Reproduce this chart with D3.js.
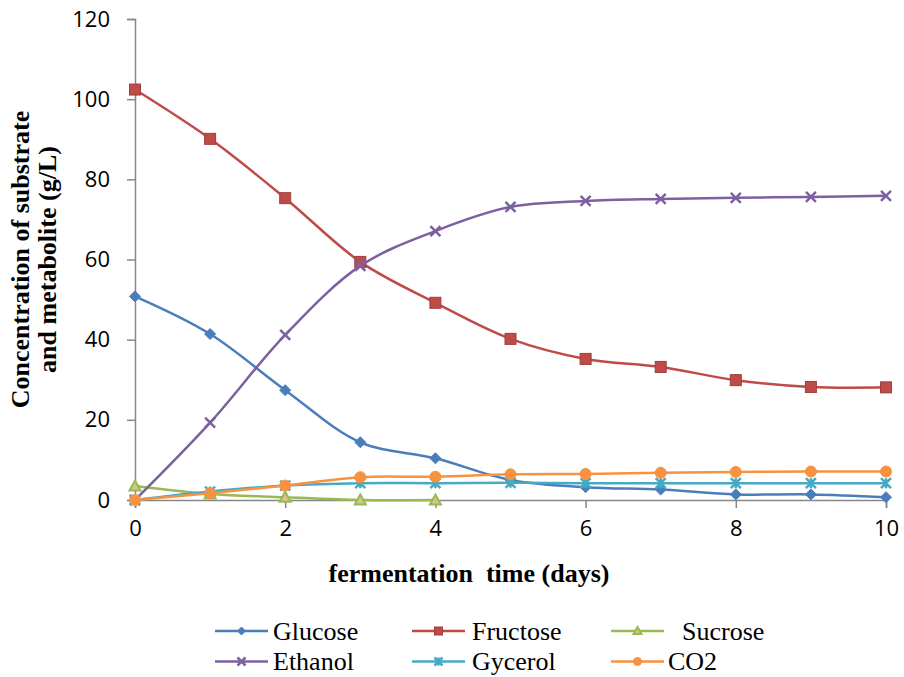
<!DOCTYPE html>
<html>
<head>
<meta charset="utf-8">
<script src="https://cdn.jsdelivr.net/npm/d3@7"></script>
<style>
    body { margin: 0; background: #fff; }
    svg { display: block; }
    .tick-label { font-family: "Open Sans", sans-serif; font-size: 22px; fill: #000; }
    .axis-title { font-family: "Liberation Serif", "Times New Roman", serif; font-size: 26px; font-weight: bold; fill: #000; }
    .legend-text { font-family: "Liberation Serif", "Times New Roman", serif; font-size: 26px; fill: #000; }
</style>
</head>
<body>
<div id="chart"></div>
<script>
// fermentation days
const days = [0, 1, 2, 3, 4, 5, 6, 7, 8, 9, 10];

// concentrations (g/L)
const glucose  = [50.8, 41.4, 27.4, 14.4, 10.4, 5.0, 3.2, 2.6, 1.4, 1.4, 0.7];
const fructose = [102.4, 90.1, 75.3, 59.4, 49.2, 40.2, 35.2, 33.2, 29.9, 28.2, 28.1];
const sucrose  = [3.5, 1.5, 0.7, 0.0, 0.0];
const ethanol  = [0.0, 19.3, 41.2, 58.4, 67.1, 73.1, 74.6, 75.1, 75.4, 75.6, 75.9];
const gycerol  = [0.0, 2.1, 3.6, 4.2, 4.2, 4.3, 4.2, 4.2, 4.2, 4.2, 4.2];
const co2      = [0.0, 1.7, 3.6, 5.7, 5.8, 6.4, 6.5, 6.8, 7.0, 7.1, 7.1];

const xTicks = [0, 2, 4, 6, 8, 10];
const yTicks = [0, 20, 40, 60, 80, 100, 120];

const seriesNames = ["Glucose", "Fructose", "Sucrose", "Ethanol", "Gycerol", "CO2"];
const seriesValues = [glucose, fructose, sucrose, ethanol, gycerol, co2];

// styling per series
const styles = {
    "Glucose":  { color: "#4A7EBB", marker: "diamond" },
    "Fructose": { color: "#BE4B48", marker: "square" },
    "Sucrose":  { color: "#98B954", marker: "triangle" },
    "Ethanol":  { color: "#7D60A0", marker: "cross" },
    "Gycerol":  { color: "#46AAC5", marker: "star" },
    "CO2":      { color: "#F69240", marker: "circle" }
};

const width = 904, height = 677;
const margin = { top: 19, right: 18, bottom: 177, left: 135 };

const svg = d3.select("#chart").append("svg")
    .attr("width", width)
    .attr("height", height);

const xScale = d3.scaleLinear().domain([0, 10]).range([margin.left, width - margin.right]);
const yScale = d3.scaleLinear().domain([0, 120]).range([height - margin.bottom, margin.top]);

// axes
const xAxis = svg.append("g")
    .attr("transform", `translate(0, ${yScale(0)})`)
    .call(d3.axisBottom(xScale).tickValues(xTicks).tickSize(8).tickPadding(12).tickFormat(d3.format("d")));

const yAxis = svg.append("g")
    .attr("transform", `translate(${xScale(0)}, 0)`)
    .call(d3.axisLeft(yScale).tickValues(yTicks).tickSize(8).tickPadding(17).tickFormat(d3.format("d")));

[xAxis, yAxis].forEach(ax => {
    ax.select(".domain").attr("stroke", "#878787").attr("stroke-width", 1.5);
    ax.selectAll(".tick line").attr("stroke", "#878787").attr("stroke-width", 1.5);
    ax.selectAll(".tick text").attr("class", "tick-label").attr("fill", "#000");
});

// axis titles
svg.append("text")
    .attr("class", "axis-title")
    .attr("x", 469)
    .attr("y", 582)
    .attr("text-anchor", "middle")
    .style("white-space", "pre")
    .text("fermentation  time (days)");

const yTitle = svg.append("text")
    .attr("class", "axis-title")
    .attr("transform", `translate(29, ${(yScale(0) + yScale(120)) / 2}) rotate(-90)`)
    .attr("text-anchor", "middle");

yTitle.append("tspan").attr("x", 0).attr("dy", 0).text("Concentration of substrate");
yTitle.append("tspan").attr("x", 0).attr("dy", "1.05em").text("and metabolite (g/L)");

// marker drawing helper
function drawMarker(g, type, color, size) {
    const s = size;
    if (type === "diamond") {
        g.append("path")
            .attr("d", `M0,${-s / 2}L${s / 2},0L0,${s / 2}L${-s / 2},0Z`)
            .attr("fill", color).attr("stroke", color).attr("stroke-width", 1);
    } else if (type === "square") {
        g.append("rect")
            .attr("x", -s / 2).attr("y", -s / 2).attr("width", s).attr("height", s)
            .attr("fill", color).attr("stroke", d3.color(color).darker(0.5)).attr("stroke-width", 1);
    } else if (type === "triangle") {
        g.append("path")
            .attr("d", `M0,${-s / 2}L${s / 2},${s / 2 - 1}L${-s / 2},${s / 2 - 1}Z`)
            .attr("fill", "#D5C48C").attr("stroke", color).attr("stroke-width", 2);
    } else if (type === "cross") {
        g.append("path")
            .attr("d", `M${-s / 2},${-s / 2}L${s / 2},${s / 2}M${-s / 2},${s / 2}L${s / 2},${-s / 2}`)
            .attr("stroke", color).attr("stroke-width", 2.5).attr("fill", "none");
    } else if (type === "star") {
        g.append("path")
            .attr("d", `M${-s / 2},${-s / 2}L${s / 2},${s / 2}M${-s / 2},${s / 2}L${s / 2},${-s / 2}M0,${-s / 2}L0,${s / 2}`)
            .attr("stroke", color).attr("stroke-width", 2.5).attr("fill", "none");
    } else if (type === "circle") {
        g.append("circle")
            .attr("r", s / 2)
            .attr("fill", color).attr("stroke", color).attr("stroke-width", 1);
    }
}

const line = d3.line()
    .x(d => xScale(d.x))
    .y(d => yScale(d.y))
    .curve(d3.curveCatmullRom.alpha(0.5));

const markerSize = { diamond: 11, square: 11, triangle: 11, cross: 10, star: 10, circle: 11 };

// draw series in order
seriesNames.forEach((name, i) => {
    const pts = seriesValues[i].map((v, j) => ({ x: days[j], y: v }));
    const st = styles[name];

    svg.append("path")
        .datum(pts)
        .attr("d", line)
        .attr("fill", "none")
        .attr("stroke", st.color)
        .attr("stroke-width", 2.5);

    pts.forEach(p => {
        const g = svg.append("g").attr("transform", `translate(${xScale(p.x)}, ${yScale(p.y)})`);
        drawMarker(g, st.marker, st.color, markerSize[st.marker]);
    });
});

// legend
const legendItems = [
    { name: "Glucose",  col: 215, row: 0, textX: 273, label: "Glucose" },
    { name: "Fructose", col: 412, row: 0, textX: 472, label: "Fructose" },
    { name: "Sucrose",  col: 611, row: 0, textX: 682, label: "Sucrose" },
    { name: "Ethanol",  col: 215, row: 1, textX: 273, label: "Ethanol" },
    { name: "Gycerol",  col: 412, row: 1, textX: 472, label: "Gycerol" },
    { name: "CO2",      col: 611, row: 1, textX: 668, label: "CO2" }
];
const rowY = [631, 661.5];

legendItems.forEach(item => {
    const st = styles[item.name];
    const y = rowY[item.row];
    svg.append("line")
        .attr("x1", item.col).attr("x2", item.col + 53)
        .attr("y1", y).attr("y2", y)
        .attr("stroke", st.color).attr("stroke-width", 2.5);
    const g = svg.append("g").attr("transform", `translate(${item.col + 26.5}, ${y})`);
    drawMarker(g, st.marker, st.color, 8);
    svg.append("text")
        .attr("class", "legend-text")
        .attr("x", item.textX)
        .attr("y", y + 8.5)
        .text(item.label);
});
</script>
</body>
</html>
